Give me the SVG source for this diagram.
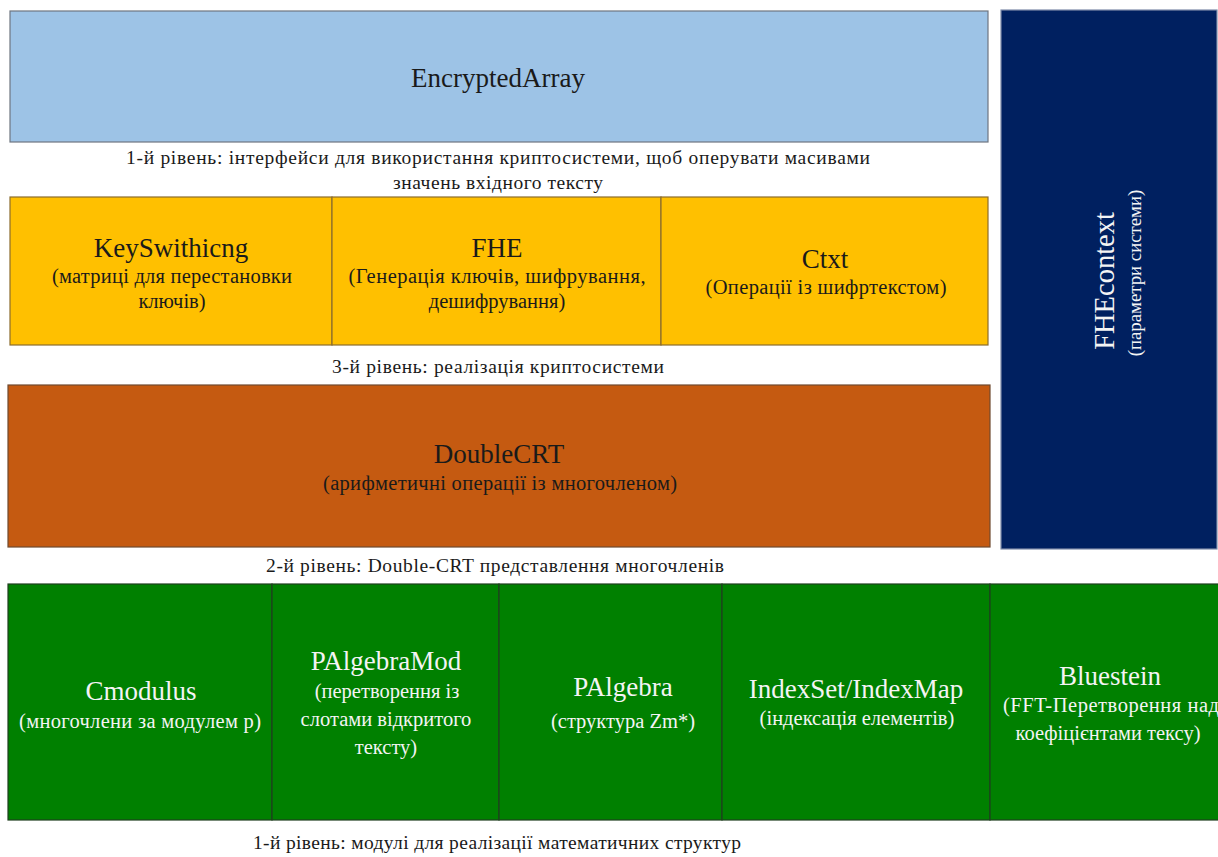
<svg xmlns="http://www.w3.org/2000/svg" width="1218" height="857" viewBox="0 0 1218 857" font-family="'Liberation Serif', 'Times New Roman', 'DejaVu Serif', serif">
  <style>
    text { font-family: "Liberation Serif", "Times New Roman", "DejaVu Serif", serif; text-anchor: middle; }
    .t { font-size: 27px; fill: #1a1a1a; }
    .s { font-size: 20.5px; fill: #1a1a1a; }
    .cap { font-size: 19.5px; fill: #1a1a1a; }
    .tw { font-size: 27px; fill: #f4f4f4; }
    .sw { font-size: 20.5px; fill: #f4f4f4; }
    .blue { fill: #9dc3e6; stroke: #6e7680; stroke-width: 1.2; }
    .yel { fill: #ffc000; stroke: #8b6d2e; stroke-width: 1.2; }
    .org { fill: #c55a11; stroke: #6f4a30; stroke-width: 1.2; }
    .grn { fill: #008000; stroke: #1f3f1f; stroke-width: 1.2; }
    .navy { fill: #002060; stroke: #7d8aa8; stroke-width: 1.2; }
  </style>
  <rect width="1218" height="857" fill="#ffffff"/>

  <!-- top layer: array interface -->
  <g id="encrypted-array">
    <rect class="blue" x="10" y="11" width="978" height="131"/>
    <text class="t" x="498" y="87">EncryptedArray</text>
  </g>
  <g id="caption-interfaces">
    <text class="cap" x="498" y="164" textLength="744" lengthAdjust="spacing">1-й рівень: інтерфейси для використання криптосистеми, щоб оперувати масивами</text>
    <text class="cap" x="498" y="189" textLength="210" lengthAdjust="spacing">значень вхідного тексту</text>
  </g>

  <!-- cryptosystem layer -->
  <g id="key-switching">
    <rect class="yel" x="10" y="197" width="322" height="148"/>
    <text class="t" x="171" y="257">KeySwithicng</text>
    <text class="s" x="172" y="283" textLength="240" lengthAdjust="spacing">(матриці для перестановки</text>
    <text class="s" x="172" y="308">ключів)</text>
  </g>
  <g id="fhe">
    <rect class="yel" x="332" y="197" width="329" height="148"/>
    <text class="t" x="497" y="257">FHE</text>
    <text class="s" x="497" y="283" textLength="297" lengthAdjust="spacing">(Генерація ключів, шифрування,</text>
    <text class="s" x="497" y="308">дешифрування)</text>
  </g>
  <g id="ctxt">
    <rect class="yel" x="661" y="197" width="327" height="148"/>
    <text class="t" x="825" y="268">Ctxt</text>
    <text class="s" x="826" y="294" textLength="241" lengthAdjust="spacing">(Операції із шифртекстом)</text>
  </g>
  <g id="caption-crypto">
    <text class="cap" x="498" y="373" textLength="332" lengthAdjust="spacing">3-й рівень: реалізація криптосистеми</text>
  </g>

  <!-- Double-CRT layer -->
  <g id="double-crt">
    <rect class="org" x="8" y="385" width="982" height="162"/>
    <text class="t" x="499" y="463">DoubleCRT</text>
    <text class="s" x="500" y="490" textLength="354" lengthAdjust="spacing">(арифметичні операції із многочленом)</text>
  </g>
  <g id="caption-dcrt">
    <text class="cap" x="495" y="572" textLength="458" lengthAdjust="spacing">2-й рівень: Double-CRT представлення многочленів</text>
  </g>

  <!-- math structures layer -->
  <g id="cmodulus">
    <rect class="grn" x="8" y="584" width="264" height="236"/>
    <text class="tw" x="141" y="700">Cmodulus</text>
    <text class="sw" x="140" y="728" textLength="242" lengthAdjust="spacing">(многочлени за модулем p)</text>
  </g>
  <g id="palgebra-mod">
    <rect class="grn" x="272" y="584" width="227" height="236"/>
    <text class="tw" x="386" y="670">PAlgebraMod</text>
    <text class="sw" x="387" y="698">(перетворення із</text>
    <text class="sw" x="386" y="726">слотами відкритого</text>
    <text class="sw" x="386" y="754">тексту)</text>
  </g>
  <g id="palgebra">
    <rect class="grn" x="499" y="584" width="223" height="236"/>
    <text class="tw" x="623" y="696">PAlgebra</text>
    <text class="sw" x="623" y="728">(структура Zm*)</text>
  </g>
  <g id="index-set">
    <rect class="grn" x="722" y="584" width="268" height="236"/>
    <text class="tw" x="856" y="698">IndexSet/IndexMap</text>
    <text class="sw" x="857" y="725">(індексація елементів)</text>
  </g>
  <g id="bluestein">
    <rect class="grn" x="990" y="584" width="240" height="236"/>
    <text class="tw" x="1110" y="685">Bluestein</text>
    <text class="sw" x="1111" y="712" textLength="216" lengthAdjust="spacing">(FFT-Перетворення над</text>
    <text class="sw" x="1108" y="740">коефіцієнтами тексу)</text>
  </g>
  <g id="caption-math">
    <text class="cap" x="497" y="849" textLength="488" lengthAdjust="spacing">1-й рівень: модулі для реалізації математичних структур</text>
  </g>

  <!-- side column: context parameters -->
  <g id="fhe-context">
    <rect class="navy" x="1001" y="10" width="216" height="539"/>
    <g transform="translate(1114 281) rotate(-90)">
      <text class="tw" x="0" y="0" style="font-size:28.5px">FHEcontext</text>
      <text class="sw" x="8" y="27" style="font-size:18.8px">(параметри системи)</text>
    </g>
  </g>

  <!-- no connectors: layers are stacked blocks -->
  <g id="connectors"/>
</svg>
